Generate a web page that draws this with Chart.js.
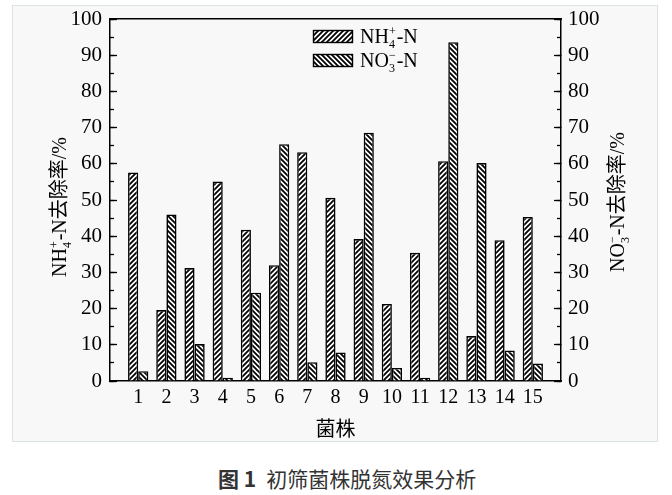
<!DOCTYPE html>
<html>
<head>
<meta charset="utf-8">
<title>初筛菌株脱氮效果分析</title>
<script src="https://cdn.jsdelivr.net/npm/chart.js@4.4.0/dist/chart.umd.min.js"></script>
<style>
    body { margin: 0; background: #fff; width: 672px; height: 495px; position: relative; overflow: hidden; }
    .panel {
        position: absolute; left: 12px; top: 5px;
        width: 644px; height: 435px;
        background: #f8f8f8; border: 1px solid #dce3e6;
    }
    .caption {
        position: absolute; left: 218px; top: 468px;
        font-family: 'Noto Sans CJK SC', sans-serif; font-size: 21px; line-height: 21px;
        color: #333; white-space: nowrap;
    }
    .caption b { margin-right: 10px; }
</style>
</head>
<body>
<div class="panel">
    <canvas id="removalChart"></canvas>
</div>
<div class="caption"><b>图 1</b>初筛菌株脱氮效果分析</div>

<script>
    // 菌株编号与去除率 (%)
    const strains = [1, 2, 3, 4, 5, 6, 7, 8, 9, 10, 11, 12, 13, 14, 15];
    const nh4Removal = [57.6, 19.6, 31.2, 55.1, 41.8, 32.0, 63.2, 50.6, 39.2, 21.3, 35.4, 60.7, 12.4, 38.9, 45.3];
    const no3Removal = [2.7, 46.0, 10.2, 0.9, 24.4, 65.4, 5.2, 7.9, 68.6, 3.6, 0.9, 93.6, 60.2, 8.4, 4.8];
    const yRange = [0, 100];
    const yMajorStep = 10;
    const yMinorStep = 5;
    const xRange = [0, 16];

    const SERIF = "'Liberation Serif', 'DejaVu Serif', serif";
    const CJK = "'Noto Sans CJK SC', sans-serif";

    const canvas = document.getElementById('removalChart');
    const ctx = canvas.getContext('2d');

    // 斜线填充
    function hatch(dir) {
        const s = 5;
        const c = document.createElement('canvas');
        c.width = s; c.height = s;
        const g = c.getContext('2d');
        g.fillStyle = '#fff';
        g.fillRect(0, 0, s, s);
        g.strokeStyle = '#000';
        g.lineWidth = 1.8;
        g.beginPath();
        if (dir > 0) {
            g.moveTo(-1, s + 1); g.lineTo(s + 1, -1);
            g.moveTo(-1, 1); g.lineTo(1, -1);
            g.moveTo(s - 1, s + 1); g.lineTo(s + 1, s - 1);
        } else {
            g.moveTo(-1, -1); g.lineTo(s + 1, s + 1);
            g.moveTo(s - 1, -1); g.lineTo(s + 1, 1);
            g.moveTo(-1, s - 1); g.lineTo(1, s + 1);
        }
        g.stroke();
        return ctx.createPattern(c, 'repeat');
    }
    const nh4Fill = hatch(1);
    const no3Fill = hatch(-1);

    // 带上下标的文字: [{t}] 或 {sub, sup}
    const nh4Label = [{t: 'NH'}, {sub: '4', sup: '+'}, {t: '-N'}];
    const no3Label = [{t: 'NO'}, {sub: '3', sup: '\u2212'}, {t: '-N'}];

    function partWidth(g, p) {
        if (p.sub !== undefined) {
            g.font = '12px ' + SERIF;
            return Math.max(g.measureText(p.sub).width, g.measureText(p.sup).width) + 1;
        }
        g.font = '20px ' + (p.cjk ? CJK : SERIF);
        return g.measureText(p.t).width;
    }

    function drawRich(g, parts, x, y) {
        // x: 左端, y: 基线
        let cx = x;
        g.fillStyle = '#000';
        g.textAlign = 'left';
        g.textBaseline = 'alphabetic';
        parts.forEach(p => {
            const w = partWidth(g, p);
            if (p.sub !== undefined) {
                g.font = '12px ' + SERIF;
                g.fillText(p.sub, cx, y + 5);
                g.fillText(p.sup, cx, y - 8);
            } else {
                g.font = '20px ' + (p.cjk ? CJK : SERIF);
                g.fillText(p.t, cx, y);
            }
            cx += w;
        });
        return cx - x;
    }

    function richWidth(g, parts) {
        return parts.reduce((s, p) => s + partWidth(g, p), 0);
    }

    function drawVerticalTitle(g, parts, cx, cy) {
        const w = richWidth(g, parts);
        g.save();
        g.translate(cx, cy);
        g.rotate(-Math.PI / 2);
        drawRich(g, parts, -w / 2, 7);
        g.restore();
    }

    const decorations = {
        id: 'decorations',
        afterDraw(chart) {
            const g = chart.ctx;
            const area = chart.chartArea;

            // 图例
            [[nh4Fill, nh4Label], [no3Fill, no3Label]].forEach(([fill, label], i) => {
                const bx = area.left + 203;
                const by = area.top + 11 + i * 24;
                g.save();
                g.fillStyle = fill;
                g.fillRect(bx, by, 39, 12);
                g.strokeStyle = '#000';
                g.lineWidth = 1.4;
                g.strokeRect(bx + 0.5, by + 0.5, 39, 12);
                drawRich(g, label, bx + 47, by + 13);
                g.restore();
            });

            // 坐标轴标题
            const yTitleLeft = [...nh4Label, {t: '去除率', cjk: true}, {t: '/%'}];
            const yTitleRight = [...no3Label, {t: '去除率', cjk: true}, {t: '/%'}];
            const midY = (area.top + area.bottom) / 2;
            drawVerticalTitle(g, yTitleLeft, area.left - 51, midY + 7);
            drawVerticalTitle(g, yTitleRight, area.right + 56, midY + 2);
        }
    };

    const tickFont = {family: SERIF, size: 21};

    function noOverhang(scale) {
        scale.paddingTop = 0;
        scale.paddingBottom = 0;
        scale.paddingLeft = 0;
        scale.paddingRight = 0;
    }

    function yAxis(position, major, width, weight) {
        return {
            type: 'linear',
            position: position,
            min: yRange[0],
            max: yRange[1],
            weight: weight,
            display: true,
            afterFit: scale => { scale.width = width; noOverhang(scale); },
            ticks: {
                stepSize: major ? yMajorStep : yMinorStep,
                display: major,
                color: '#000',
                font: tickFont,
                padding: position === 'left' ? 15 : 14
            },
            grid: {
                display: true,
                drawOnChartArea: false,
                drawTicks: true,
                tickLength: major ? -7 : -4,
                tickColor: '#000',
                tickWidth: 1.3
            },
            border: {display: major, color: '#000', width: 1.5}
        };
    }

    new Chart(ctx, {
        type: 'bar',
        data: {
            labels: strains,
            datasets: [{
                label: 'NH4+-N',
                data: nh4Removal,
                yAxisID: 'y',
                backgroundColor: nh4Fill,
                borderColor: '#000',
                borderWidth: 1.6,
                categoryPercentage: 0.72,
                barPercentage: 1
            }, {
                label: 'NO3--N',
                data: no3Removal,
                yAxisID: 'y2',
                backgroundColor: no3Fill,
                borderColor: '#000',
                borderWidth: 1.6,
                categoryPercentage: 0.72,
                barPercentage: 1
            }]
        },
        options: {
            responsive: true,
            maintainAspectRatio: false,
            animation: false,
            layout: {padding: {top: 13, left: 0, right: 0, bottom: 0}},
            plugins: {
                legend: {display: false},
                tooltip: {enabled: false}
            },
            scales: {
                x: {
                    type: 'linear',
                    position: 'bottom',
                    min: xRange[0],
                    max: xRange[1],
                    offset: false,
                    afterFit: scale => { scale.height = 60; noOverhang(scale); },
                    ticks: {
                        stepSize: 1,
                        includeBounds: false,
                        autoSkip: false,
                        maxRotation: 0,
                        color: '#000',
                        font: {family: SERIF, size: 20},
                        padding: 5,
                        callback: v => (v >= strains[0] && v <= strains[strains.length - 1]) ? String(v) : ''
                    },
                    grid: {display: false, drawTicks: false, offset: false},
                    border: {display: true, color: '#000', width: 1.5},
                    title: {
                        display: true,
                        text: '菌株',
                        color: '#000',
                        font: {family: CJK, size: 20, lineHeight: 1.2},
                        padding: {top: 0, bottom: 1}
                    }
                },
                xTop: {
                    type: 'linear',
                    position: 'top',
                    min: xRange[0],
                    max: xRange[1],
                    display: true,
                    afterFit: scale => { scale.height = 0; noOverhang(scale); },
                    ticks: {display: false},
                    grid: {display: false, drawTicks: false},
                    border: {display: true, color: '#000', width: 1.5}
                },
                y: yAxis('left', true, 97, 1),
                yMinorLeft: yAxis('left', false, 0, 0),
                y2: yAxis('right', true, 96, 1),
                yMinorRight: yAxis('right', false, 0, 0)
            }
        },
        plugins: [decorations]
    });
</script>
</body>
</html>
